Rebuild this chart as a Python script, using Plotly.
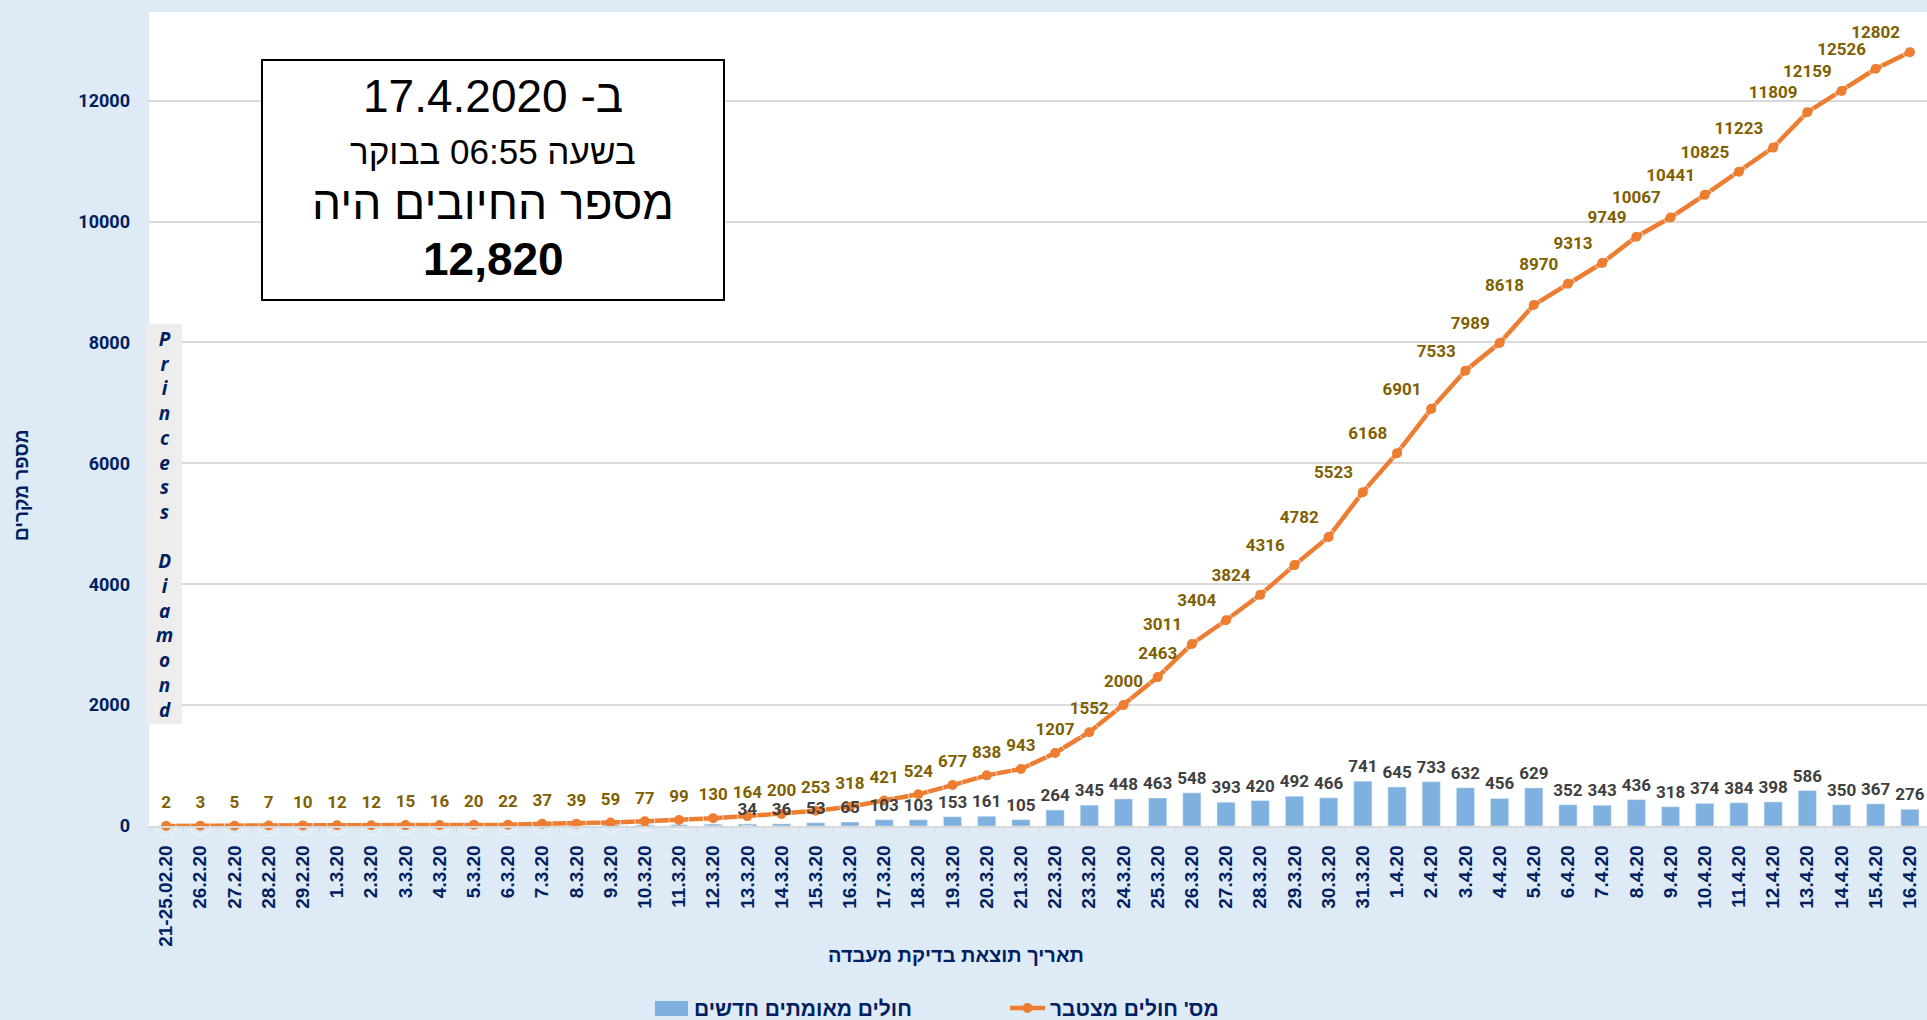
import plotly.graph_objects as go

dates = ["21-25.02.20", "26.2.20", "27.2.20", "28.2.20", "29.2.20",
         "1.3.20", "2.3.20", "3.3.20", "4.3.20", "5.3.20", "6.3.20", "7.3.20", "8.3.20",
         "9.3.20", "10.3.20", "11.3.20", "12.3.20", "13.3.20", "14.3.20", "15.3.20",
         "16.3.20", "17.3.20", "18.3.20", "19.3.20", "20.3.20", "21.3.20", "22.3.20",
         "23.3.20", "24.3.20", "25.3.20", "26.3.20", "27.3.20", "28.3.20", "29.3.20",
         "30.3.20", "31.3.20", "1.4.20", "2.4.20", "3.4.20", "4.4.20", "5.4.20",
         "6.4.20", "7.4.20", "8.4.20", "9.4.20", "10.4.20", "11.4.20", "12.4.20",
         "13.4.20", "14.4.20", "15.4.20", "16.4.20"]

cumulative = [2, 3, 5, 7, 10, 12, 12, 15, 16, 20, 22, 37, 39, 59, 77, 99, 130, 164, 200, 253,
              318, 421, 524, 677, 838, 943, 1207, 1552, 2000, 2463, 3011, 3404, 3824, 4316,
              4782, 5523, 6168, 6901, 7533, 7989, 8618, 8970, 9313, 9749, 10067, 10441,
              10825, 11223, 11809, 12159, 12526, 12802]

new_cases = [2, 1, 2, 2, 3, 2, 0, 3, 1, 4, 2, 15, 2, 20, 18, 22, 31, 34, 36, 53,
             65, 103, 103, 153, 161, 105, 264, 345, 448, 463, 548, 393, 420, 492,
             466, 741, 645, 733, 632, 456, 629, 352, 343, 436, 318, 374, 384, 398,
             586, 350, 367, 276]

first_bar_label = 17   # bar labels are shown from 13.3.20 onward
first_left_label = 30  # line labels sit to the upper-left from 26.3.20 onward

legend_bar = "חולים מאומתים חדשים"
legend_line = "מס' חולים מצטבר"
x_title = "תאריך תוצאת בדיקת מעבדה"
y_title = "מספר מקרים"
box_lines = ["ב- 17.4.2020", "בשעה 06:55 בבוקר", "מספר החיובים היה", "12,820"]
side_text = "Princess Diamond"

NAVY = "#002060"
ORANGE = "#ED7D31"
BLUE = "#7EB1DF"
BG = "#DEEBF7"
NUMFONT = "Roboto, sans-serif"
ARIAL = "Liberation Sans, Arial, sans-serif"

# layout geometry (pixels)
W, H = 1927, 1020
L, R, T, B = 149, 0, 12, 194
pw, ph = W - L - R, H - T - B

def px(x):
    return (x - L) / pw

def py(y):
    return (H - B - y) / ph

fig = go.Figure()

fig.add_trace(go.Bar(
    x=dates, y=new_cases, name=legend_bar, marker_color=BLUE, showlegend=False,
))

fig.add_trace(go.Scatter(
    x=dates, y=cumulative, name=legend_line, mode="lines+markers", showlegend=False,
    line=dict(color=ORANGE, width=4.5), marker=dict(color=ORANGE, size=10),
    cliponaxis=False,
))

# cumulative labels
n = len(cumulative)
line_pos = ["top center" if i < first_left_label else "top left" for i in range(n)]
line_pad = [20 if i < first_left_label else 14 for i in range(n)]
fig.add_trace(go.Scatter(
    x=dates, y=cumulative, mode="markers+text", showlegend=False,
    marker=dict(size=line_pad, color="rgba(0,0,0,0)"),
    text=[str(v) for v in cumulative], textposition=line_pos,
    textfont=dict(family=NUMFONT, size=17, color="#7F6000", weight="bold"),
    cliponaxis=False, hoverinfo="skip",
))

# new-case labels, drawn above the line
bar_text = [str(v) if i >= first_bar_label else "" for i, v in enumerate(new_cases)]
fig.add_trace(go.Scatter(
    x=dates, y=new_cases, mode="markers+text", showlegend=False,
    marker=dict(size=6, color="rgba(0,0,0,0)"),
    text=bar_text, textposition="top center",
    textfont=dict(family=NUMFONT, size=17, color="#404040", weight="bold"),
    cliponaxis=False, hoverinfo="skip",
))

shapes = [
    dict(type="rect", xref="paper", yref="paper", x0=px(262), x1=px(724), y0=py(300), y1=py(60),
         line=dict(color="black", width=2), fillcolor="white", layer="above"),
    dict(type="rect", xref="paper", yref="paper", x0=px(146), x1=px(182), y0=py(724), y1=py(324),
         line=dict(width=0), fillcolor="#EDEDED", layer="above"),
    # legend swatches
    dict(type="rect", xref="paper", yref="paper", x0=px(655), x1=px(688), y0=py(1016), y1=py(1001),
         line=dict(width=0), fillcolor=BLUE),
    dict(type="line", xref="paper", yref="paper", x0=px(1010), x1=px(1045), y0=py(1008), y1=py(1008),
         line=dict(color=ORANGE, width=4.5)),
    dict(type="circle", xref="paper", yref="paper", xsizemode="pixel", ysizemode="pixel",
         xanchor=px(1027.5), yanchor=py(1008), x0=-5, x1=5, y0=-5, y1=5,
         line=dict(width=0), fillcolor=ORANGE),
]

annotations = []
box_sizes = [46, 35, 46, 46]
box_y = [96, 151, 203, 259]
for i, (t, s, yy) in enumerate(zip(box_lines, box_sizes, box_y)):
    txt = "<b>%s</b>" % t if i == 3 else t
    annotations.append(dict(xref="paper", yref="paper", x=px(493), y=py(yy), text=txt,
                            showarrow=False, xanchor="center", yanchor="middle",
                            font=dict(family=ARIAL, size=s, color="black")))

side = "<br>".join(ch if ch != " " else "&nbsp;" for ch in side_text)
annotations.append(dict(xref="paper", yref="paper", x=px(164), y=py(524), text="<b><i>%s</i></b>" % side,
                        showarrow=False, xanchor="center", yanchor="middle",
                        font=dict(family="Open Sans", size=19, color=NAVY)))

annotations.append(dict(xref="paper", yref="paper", x=px(956), y=py(955), text="<b>%s</b>" % x_title,
                        showarrow=False, xanchor="center", yanchor="middle",
                        font=dict(family=ARIAL, size=20, color=NAVY)))
annotations.append(dict(xref="paper", yref="paper", x=px(21), y=py(485), text="<b>%s</b>" % y_title,
                        showarrow=False, xanchor="center", yanchor="middle", textangle=-90,
                        font=dict(family=ARIAL, size=19, color=NAVY)))
# legend texts
annotations.append(dict(xref="paper", yref="paper", x=px(692), y=py(1008), text="<b>%s</b>" % legend_bar,
                        showarrow=False, xanchor="left", yanchor="middle",
                        font=dict(family=ARIAL, size=21, color=NAVY)))
annotations.append(dict(xref="paper", yref="paper", x=px(1048), y=py(1008), text="<b>%s</b>" % legend_line,
                        showarrow=False, xanchor="left", yanchor="middle",
                        font=dict(family=ARIAL, size=21, color=NAVY)))

fig.update_layout(
    width=W, height=H,
    margin=dict(l=L, r=R, t=T, b=B),
    paper_bgcolor=BG, plot_bgcolor="white",
    bargap=0.47, showlegend=False,
    shapes=shapes, annotations=annotations,
    xaxis=dict(type="category", range=[-0.5, len(dates) - 0.5], tickangle=-90,
               showline=True, linecolor="#D9D9D9", linewidth=1.5,
               ticks="outside", tickson="boundaries", ticklen=6, tickcolor="#D9D9D9",
               ticklabelstandoff=10, showgrid=False,
               tickfont=dict(family=ARIAL, size=19, color=NAVY, weight="bold")),
    yaxis=dict(range=[0, 13466], dtick=2000, tickformat="d", showgrid=True,
               gridcolor="#D9D9D9", gridwidth=1.5,
               zeroline=False, ticks="", ticklabelstandoff=18,
               tickfont=dict(family=NUMFONT, size=18, color=NAVY, weight="bold")),
)

fig.write_html("out.html", config={"displayModeBar": False},
               post_script="document.body.style.margin='0';document.body.style.overflow='hidden';")
